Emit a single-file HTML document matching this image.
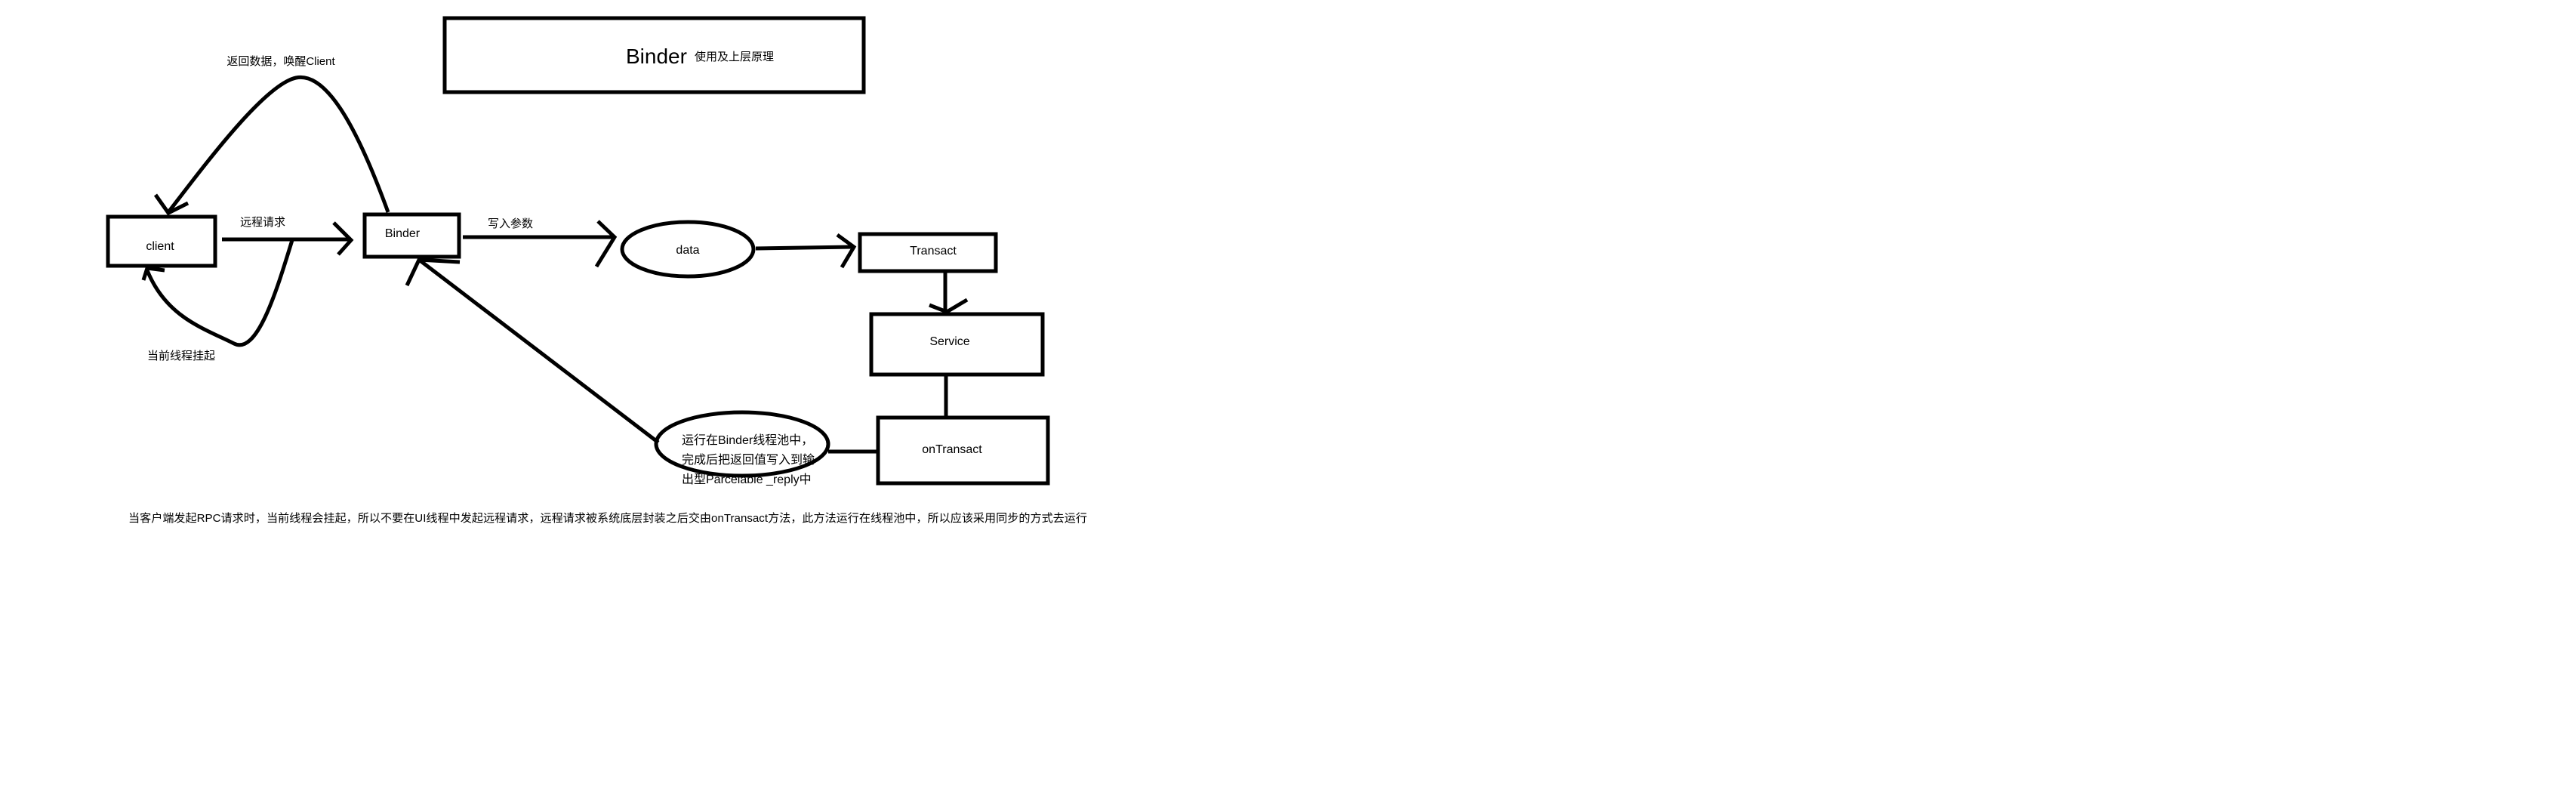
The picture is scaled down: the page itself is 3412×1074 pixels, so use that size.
<!DOCTYPE html>
<html><head><meta charset="utf-8"><style>
html,body{margin:0;padding:0;background:#fff;}
svg{display:block;}
text{font-family:"Liberation Sans","Noto Sans CJK SC",sans-serif;fill:#000;}
</style></head><body>
<svg width="3412" height="1074" viewBox="0 0 3412 1074" xmlns="http://www.w3.org/2000/svg">
<g fill="none" stroke="#000" stroke-width="5" stroke-linejoin="miter">
<rect x="589" y="24" width="555" height="98"/>
<rect x="143" y="287" width="142" height="65"/>
<rect x="483" y="284" width="125" height="56"/>
<rect x="1139" y="310" width="180" height="49"/>
<rect x="1154" y="416" width="227" height="80"/>
<rect x="1163" y="553" width="225" height="87"/>
<ellipse cx="911" cy="330" rx="87" ry="36"/>
<ellipse cx="983" cy="588" rx="114" ry="42"/>
<path d="M294 317 L465 317"/><path d="M442 295 L465 318 L448 337"/>
<path d="M613 314 L813 314"/><path d="M792 293 L814 314 L790 353"/>
<path d="M1001 329 L1129 327"/><path d="M1109 311 L1131 327 L1115 354"/>
<path d="M1252 360 L1252 412"/><path d="M1231 404 L1254 413 L1281 397"/>
<path d="M1253 497 L1253 552"/>
<path d="M1097 598 L1162 598"/>
<path d="M872 586 L555 344"/><path d="M539 378 L555 344 L609 347"/>
<path d="M514 281 C470 160 430 95 392 103 C350 112 270 220 223 281"/>
<path d="M206 258 L223 282 L249 269"/>
<path d="M387 318 C365 390 340 470 310 455 C270 435 220 420 195 358"/>
<path d="M190 371 L195 355 L218 358"/>
</g>
<text x="829" y="84" font-size="28">Binder</text>
<text x="920" y="80" font-size="15">使用及上层原理</text>
<text x="212" y="331" font-size="16" text-anchor="middle">client</text>
<text x="533" y="314" font-size="16" text-anchor="middle">Binder</text>
<text x="911" y="336" font-size="16" text-anchor="middle">data</text>
<text x="1236" y="337" font-size="16" text-anchor="middle">Transact</text>
<text x="1258" y="457" font-size="16" text-anchor="middle">Service</text>
<text x="1261" y="600" font-size="16" text-anchor="middle">onTransact</text>
<text x="348" y="299" font-size="15" text-anchor="middle">远程请求</text>
<text x="676" y="301" font-size="15" text-anchor="middle">写入参数</text>
<text x="372" y="86" font-size="15" text-anchor="middle">返回数据，唤醒Client</text>
<text x="240" y="476" font-size="15" text-anchor="middle">当前线程挂起</text>
<text x="903" y="588" font-size="16">运行在Binder线程池中，</text>
<text x="903" y="614" font-size="16">完成后把返回值写入到输</text>
<text x="903" y="640" font-size="16">出型Parcelable _reply中</text>
<text x="170" y="691" font-size="15" textLength="1270" lengthAdjust="spacingAndGlyphs">当客户端发起RPC请求时，当前线程会挂起，所以不要在UI线程中发起远程请求，远程请求被系统底层封装之后交由onTransact方法，此方法运行在线程池中，所以应该采用同步的方式去运行</text>
</svg>
</body></html>
